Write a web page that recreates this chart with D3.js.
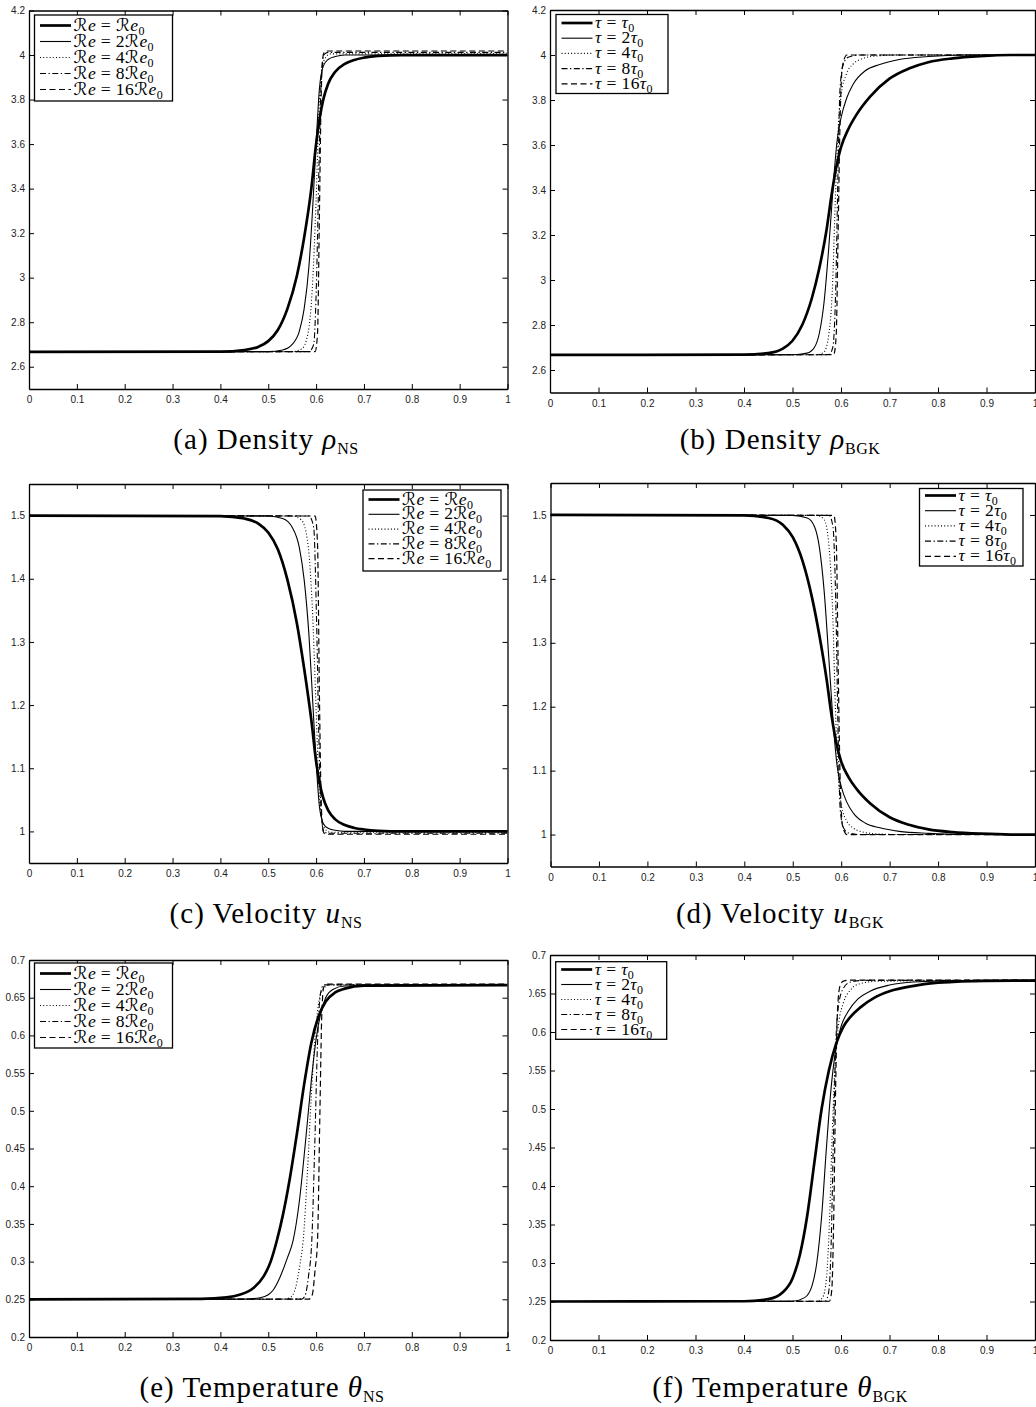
<!DOCTYPE html>
<html>
<head>
<meta charset="utf-8">
<script src="https://cdn.jsdelivr.net/npm/d3@7"></script>
<style>
  html, body { margin: 0; padding: 0; background: #fff; }
  svg { display: block; }
  .tick text { font-family: "Liberation Sans", Arial, sans-serif; font-size: 10px; fill: #222; }
  .tick line { stroke: #000; stroke-width: 1; }
  .domain { stroke: #000; stroke-width: 1.3; fill: none; }
  .legend text, .caption { font-family: "Liberation Serif", "DejaVu Serif", serif; white-space: pre; fill: #000; }
  .cal { font-family: "DejaVu Serif", "DejaVu Sans", serif; }
</style>
</head>
<body>
<svg id="fig" width="1036" height="1407"></svg>
<script>
// ---- axis ticks ----
const xTicks = [0, 0.1, 0.2, 0.3, 0.4, 0.5, 0.6, 0.7, 0.8, 0.9, 1];
const xTickLabels = ["0", "0.1", "0.2", "0.3", "0.4", "0.5", "0.6", "0.7", "0.8", "0.9", "1"];
const rhoTicks = [2.6, 2.8, 3, 3.2, 3.4, 3.6, 3.8, 4, 4.2];
const rhoTickLabels = ["2.6", "2.8", "3", "3.2", "3.4", "3.6", "3.8", "4", "4.2"];
const uTicks = [1, 1.1, 1.2, 1.3, 1.4, 1.5];
const uTickLabels = ["1", "1.1", "1.2", "1.3", "1.4", "1.5"];
const thTicks = [0.2, 0.25, 0.3, 0.35, 0.4, 0.45, 0.5, 0.55, 0.6, 0.65, 0.7];
const thTickLabels = ["0.2", "0.25", "0.3", "0.35", "0.4", "0.45", "0.5", "0.55", "0.6", "0.65", "0.7"];

// legend multipliers
const factors = ["", "2", "4", "8", "16"];

// ---- density, Navier-Stokes: Re = Re0, 2Re0, 4Re0, 8Re0, 16Re0 ----
const rhoNS1 = [[0,2.667],[0.40,2.668],[0.45,2.675],[0.48,2.69],[0.50,2.715],[0.52,2.765],[0.54,2.86],[0.56,3.01],[0.575,3.18],[0.59,3.40],[0.60,3.60],[0.607,3.71],[0.615,3.80],[0.625,3.87],[0.64,3.925],[0.66,3.96],[0.68,3.978],[0.70,3.988],[0.73,3.996],[0.78,4.0],[1,4.0]];
const rhoNS2 = [[0,2.667],[0.50,2.668],[0.53,2.675],[0.55,2.70],[0.565,2.76],[0.575,2.86],[0.585,3.05],[0.593,3.32],[0.60,3.60],[0.607,3.85],[0.615,3.95],[0.625,3.98],[0.64,3.993],[0.66,4.0],[1,4.0]];
const rhoNS4 = [[0,2.667],[0.55,2.668],[0.57,2.68],[0.583,2.75],[0.592,2.95],[0.60,3.35],[0.606,3.75],[0.612,3.93],[0.62,3.99],[0.63,4.005],[1,4.005]];
const rhoNS8 = [[0,2.667],[0.585,2.668],[0.595,2.70],[0.601,3.0],[0.606,3.5],[0.611,3.9],[0.616,4.0],[0.625,4.012],[1,4.012]];
const rhoNS16 = [[0,2.667],[0.598,2.668],[0.603,2.75],[0.607,3.3],[0.611,3.85],[0.615,4.0],[0.62,4.018],[1,4.018]];

// ---- density, BGK: tau = tau0 ... 16 tau0 ----
const rhoBGK1 = [[0,2.667],[0.40,2.668],[0.45,2.675],[0.48,2.695],[0.50,2.73],[0.52,2.80],[0.54,2.92],[0.555,3.05],[0.57,3.22],[0.58,3.37],[0.59,3.50],[0.60,3.59],[0.615,3.67],[0.632,3.735],[0.66,3.815],[0.70,3.895],[0.74,3.94],[0.78,3.968],[0.83,3.985],[0.887,3.995],[0.95,4.0],[1,4.0]];
const rhoBGK2 = [[0,2.667],[0.50,2.668],[0.53,2.675],[0.545,2.70],[0.555,2.76],[0.565,2.90],[0.575,3.15],[0.585,3.45],[0.592,3.62],[0.60,3.72],[0.612,3.81],[0.625,3.87],[0.65,3.93],[0.68,3.958],[0.72,3.98],[0.78,3.993],[0.85,4.0],[1,4.0]];
const rhoBGK4 = [[0,2.667],[0.55,2.668],[0.565,2.68],[0.575,2.76],[0.582,2.95],[0.589,3.40],[0.595,3.70],[0.60,3.82],[0.612,3.92],[0.625,3.96],[0.639,3.98],[0.67,3.995],[0.72,4.0],[1,4.0]];
const rhoBGK8 = [[0,2.667],[0.575,2.668],[0.583,2.70],[0.589,2.95],[0.594,3.50],[0.598,3.85],[0.605,3.96],[0.615,3.99],[0.64,4.0],[1,4.0]];
const rhoBGK16 = [[0,2.667],[0.585,2.668],[0.59,2.75],[0.594,3.20],[0.598,3.70],[0.603,3.95],[0.612,4.0],[1,4.0]];

// ---- velocity, Navier-Stokes ----
const uNS1 = [[0,1.5],[0.40,1.4993],[0.45,1.4953],[0.48,1.487],[0.50,1.4733],[0.52,1.4467],[0.54,1.3986],[0.56,1.3289],[0.575,1.2579],[0.59,1.1765],[0.60,1.1111],[0.607,1.0782],[0.615,1.0526],[0.625,1.0336],[0.64,1.0191],[0.66,1.0101],[0.68,1.0055],[0.70,1.003],[0.73,1.001],[0.78,1.0],[1,1.0]];
const uNS2 = [[0,1.5],[0.50,1.4993],[0.53,1.4953],[0.55,1.4815],[0.565,1.4493],[0.575,1.3986],[0.585,1.3115],[0.593,1.2048],[0.60,1.1111],[0.607,1.039],[0.615,1.0127],[0.625,1.005],[0.64,1.0018],[0.66,1.0],[1,1.0]];
const uNS4 = [[0,1.5],[0.55,1.4993],[0.57,1.4925],[0.583,1.4545],[0.592,1.3559],[0.60,1.194],[0.606,1.0667],[0.612,1.0178],[0.62,1.0025],[0.63,0.9988],[1,0.9988]];
const uNS8 = [[0,1.5],[0.585,1.4993],[0.595,1.4815],[0.601,1.3333],[0.606,1.1429],[0.611,1.0256],[0.616,1.0],[0.625,0.997],[1,0.997]];
const uNS16 = [[0,1.5],[0.598,1.4993],[0.603,1.4545],[0.607,1.2121],[0.611,1.039],[0.615,1.0],[0.62,0.9955],[1,0.9955]];

// ---- velocity, BGK ----
const uBGK1 = [[0,1.5],[0.40,1.4993],[0.45,1.4953],[0.48,1.4842],[0.50,1.4652],[0.52,1.4286],[0.54,1.3699],[0.555,1.3115],[0.57,1.2422],[0.58,1.1869],[0.59,1.1429],[0.60,1.1142],[0.615,1.0899],[0.632,1.071],[0.66,1.0485],[0.70,1.027],[0.74,1.0152],[0.78,1.0081],[0.83,1.0038],[0.887,1.0013],[0.95,1.0],[1,1.0]];
const uBGK2 = [[0,1.5],[0.50,1.4993],[0.53,1.4953],[0.545,1.4815],[0.555,1.4493],[0.565,1.3793],[0.575,1.2698],[0.585,1.1594],[0.592,1.105],[0.60,1.0753],[0.612,1.0499],[0.625,1.0336],[0.65,1.0178],[0.68,1.0106],[0.72,1.005],[0.78,1.0018],[0.85,1.0],[1,1.0]];
const uBGK4 = [[0,1.5],[0.55,1.4993],[0.565,1.4925],[0.575,1.4493],[0.582,1.3559],[0.589,1.1765],[0.595,1.0811],[0.60,1.0471],[0.612,1.0204],[0.625,1.0101],[0.639,1.005],[0.67,1.0013],[0.72,1.0],[1,1.0]];
const uBGK8 = [[0,1.5],[0.575,1.4993],[0.583,1.4815],[0.589,1.3559],[0.594,1.1429],[0.598,1.039],[0.605,1.0101],[0.615,1.0025],[0.64,1.0],[1,1.0]];
const uBGK16 = [[0,1.5],[0.585,1.4993],[0.59,1.4545],[0.594,1.25],[0.598,1.0811],[0.603,1.0127],[0.612,1.0],[1,1.0]];

// ---- temperature, Navier-Stokes ----
const thNS1 = [[0,0.25],[0.36,0.2505],[0.413,0.2525],[0.44,0.256],[0.469,0.265],[0.49,0.28],[0.505,0.30],[0.518,0.328],[0.53,0.36],[0.545,0.41],[0.56,0.47],[0.575,0.535],[0.59,0.59],[0.605,0.625],[0.62,0.645],[0.64,0.657],[0.66,0.662],[0.70,0.666],[1,0.6667]];
const thNS2 = [[0,0.25],[0.45,0.2502],[0.483,0.252],[0.50,0.256],[0.51,0.262],[0.525,0.28],[0.54,0.305],[0.552,0.328],[0.565,0.38],[0.578,0.46],[0.59,0.54],[0.60,0.595],[0.61,0.63],[0.62,0.65],[0.635,0.661],[0.66,0.6655],[1,0.6667]];
const thNS4 = [[0,0.25],[0.53,0.2502],[0.545,0.252],[0.557,0.265],[0.566,0.295],[0.573,0.328],[0.582,0.42],[0.59,0.52],[0.598,0.60],[0.606,0.645],[0.615,0.662],[0.63,0.667],[1,0.667]];
const thNS8 = [[0,0.25],[0.57,0.2502],[0.577,0.255],[0.584,0.28],[0.591,0.328],[0.597,0.45],[0.603,0.59],[0.609,0.655],[0.616,0.667],[1,0.667]];
const thNS16 = [[0,0.25],[0.585,0.2502],[0.592,0.256],[0.598,0.29],[0.603,0.328],[0.608,0.50],[0.612,0.63],[0.616,0.664],[0.622,0.668],[1,0.668]];

// ---- temperature, BGK ----
const thBGK1 = [[0,0.25],[0.40,0.2503],[0.45,0.253],[0.48,0.262],[0.50,0.28],[0.515,0.31],[0.53,0.36],[0.545,0.43],[0.56,0.50],[0.575,0.55],[0.59,0.585],[0.605,0.607],[0.62,0.62],[0.64,0.632],[0.67,0.645],[0.70,0.653],[0.75,0.66],[0.80,0.664],[0.90,0.6665],[1,0.6667]];
const thBGK2 = [[0,0.25],[0.50,0.2503],[0.525,0.255],[0.54,0.27],[0.55,0.30],[0.56,0.36],[0.57,0.45],[0.58,0.53],[0.59,0.58],[0.60,0.607],[0.615,0.627],[0.635,0.643],[0.66,0.653],[0.70,0.661],[0.75,0.665],[0.85,0.6667],[1,0.6667]];
const thBGK4 = [[0,0.25],[0.55,0.2503],[0.562,0.255],[0.57,0.28],[0.576,0.35],[0.582,0.47],[0.588,0.56],[0.595,0.61],[0.605,0.638],[0.62,0.655],[0.64,0.663],[0.68,0.666],[1,0.6667]];
const thBGK8 = [[0,0.25],[0.567,0.2503],[0.574,0.26],[0.579,0.31],[0.584,0.45],[0.589,0.58],[0.595,0.635],[0.605,0.657],[0.62,0.665],[0.65,0.667],[1,0.667]];
const thBGK16 = [[0,0.25],[0.576,0.2503],[0.581,0.265],[0.585,0.36],[0.589,0.53],[0.593,0.63],[0.598,0.66],[0.605,0.666],[0.62,0.6675],[1,0.6675]];

// ---- line styles for the five refinement levels ----
const lineStyles = [
  { width: 2.7, dash: null },
  { width: 1.1, dash: null },
  { width: 1.1, dash: "1,2.2" },
  { width: 1.1, dash: "6,2.5,1.3,2.5" },
  { width: 1.2, dash: "6,3.5" }
];

const W = 1036, H = 1407;
const svg = d3.select("#fig");

const panels = [
  { box: { l: 29, t: 10.5, r: 507.5, b: 389 }, yDomain: [2.5, 4.2], yTicks: rhoTicks, yLabels: rhoTickLabels,
    series: [rhoNS1, rhoNS2, rhoNS4, rhoNS8, rhoNS16], kind: "re",
    legend: { x: 34.5, y: 15, w: 138, h: 86, y0: 25.5, step: 16 },
    cap: { cx: 266, base: 449, tag: "(a) Density ", sym: "ρ", sub: "NS" }, clipX: 0 },
  { box: { l: 550, t: 10, r: 1035, b: 392.5 }, yDomain: [2.5, 4.2], yTicks: rhoTicks, yLabels: rhoTickLabels,
    series: [rhoBGK1, rhoBGK2, rhoBGK4, rhoBGK8, rhoBGK16], kind: "tau",
    legend: { x: 556, y: 14.5, w: 112, h: 79, y0: 23, step: 15.2 },
    cap: { cx: 780, base: 449, tag: "(b) Density ", sym: "ρ", sub: "BGK" }, clipX: 529 },
  { box: { l: 29, t: 484, r: 507.5, b: 863 }, yDomain: [0.95, 1.55], yTicks: uTicks, yLabels: uTickLabels,
    series: [uNS1, uNS2, uNS4, uNS8, uNS16], kind: "re",
    legend: { x: 363, y: 490, w: 138, h: 81, y0: 499.5, step: 14.8 },
    cap: { cx: 266, base: 923, tag: "(c) Velocity ", sym: "u", sub: "NS" }, clipX: 0 },
  { box: { l: 550.5, t: 483, r: 1035, b: 866.5 }, yDomain: [0.95, 1.55], yTicks: uTicks, yLabels: uTickLabels,
    series: [uBGK1, uBGK2, uBGK4, uBGK8, uBGK16], kind: "tau",
    legend: { x: 919.5, y: 488.5, w: 103.5, h: 77.5, y0: 495.5, step: 15.2 },
    cap: { cx: 780, base: 923, tag: "(d) Velocity ", sym: "u", sub: "BGK" }, clipX: 529 },
  { box: { l: 29, t: 960, r: 507.5, b: 1337 }, yDomain: [0.2, 0.7], yTicks: thTicks, yLabels: thTickLabels,
    series: [thNS1, thNS2, thNS4, thNS8, thNS16], kind: "re",
    legend: { x: 34.5, y: 963, w: 138, h: 85, y0: 973.5, step: 16 },
    cap: { cx: 262, base: 1397, tag: "(e) Temperature ", sym: "θ", sub: "NS" }, clipX: 0 },
  { box: { l: 550, t: 955, r: 1035, b: 1340 }, yDomain: [0.2, 0.7], yTicks: thTicks, yLabels: thTickLabels,
    series: [thBGK1, thBGK2, thBGK4, thBGK8, thBGK16], kind: "tau",
    legend: { x: 555.7, y: 961.7, w: 111, h: 77.6, y0: 969.5, step: 15 },
    cap: { cx: 780, base: 1397, tag: "(f) Temperature ", sym: "θ", sub: "BGK" }, clipX: 529 }
];

// legend entry:  Re = k Re0  or  tau = k tau0
function legendLabel(t, kind, factor) {
  const eq = " = " + factor;
  if (kind === "re") {
    t.append("tspan").attr("class", "cal").text("ℛ");
    t.append("tspan").attr("font-style", "italic").text("e");
    t.append("tspan").text(eq);
    t.append("tspan").attr("class", "cal").text("ℛ");
    t.append("tspan").attr("font-style", "italic").text("e");
  } else {
    t.append("tspan").attr("font-style", "italic").text("τ");
    t.append("tspan").text(eq);
    t.append("tspan").attr("font-style", "italic").text("τ");
  }
  t.append("tspan").attr("font-size", 12).attr("dy", 4).text("0");
}

function styleLine(sel, k) {
  sel.attr("fill", "none").attr("stroke", "#000")
     .attr("stroke-width", lineStyles[k].width)
     .attr("stroke-dasharray", lineStyles[k].dash)
     .attr("stroke-linejoin", "round");
}

panels.forEach((p, pi) => {
  const g = svg.append("g");
  if (p.clipX) {
    const cid = "panelclip" + pi;
    svg.append("clipPath").attr("id", cid).append("rect")
      .attr("x", p.clipX).attr("y", 0).attr("width", W - p.clipX).attr("height", H);
    g.attr("clip-path", `url(#${cid})`);
  }
  const x = d3.scaleLinear().domain([0, 1]).range([p.box.l, p.box.r]);
  const y = d3.scaleLinear().domain(p.yDomain).range([p.box.b, p.box.t]);

  // plot-area clip for the curves
  const pid = "plotclip" + pi;
  svg.append("clipPath").attr("id", pid).append("rect")
    .attr("x", p.box.l).attr("y", p.box.t)
    .attr("width", p.box.r - p.box.l).attr("height", p.box.b - p.box.t);

  const line = d3.line().x(d => x(d[0])).y(d => y(d[1])).curve(d3.curveMonotoneX);
  const curves = g.append("g").attr("clip-path", `url(#${pid})`);
  p.series.forEach((s, k) => {
    curves.append("path").datum(s).attr("d", line).call(styleLine, k);
  });

  // axes with inward ticks on all four sides
  g.append("g").attr("transform", `translate(0,${p.box.b})`)
    .call(d3.axisBottom(x).tickValues(xTicks).tickFormat((d, i) => xTickLabels[i]).tickSizeInner(-5).tickSizeOuter(0).tickPadding(7));
  g.append("g").attr("transform", `translate(0,${p.box.t})`)
    .call(d3.axisTop(x).tickValues(xTicks).tickFormat("").tickSizeInner(-5).tickSizeOuter(0));
  g.append("g").attr("transform", `translate(${p.box.l},0)`)
    .call(d3.axisLeft(y).tickValues(p.yTicks).tickFormat((d, i) => p.yLabels[i]).tickSizeInner(-5).tickSizeOuter(0).tickPadding(4));
  g.append("g").attr("transform", `translate(${p.box.r},0)`)
    .call(d3.axisRight(y).tickValues(p.yTicks).tickFormat("").tickSizeInner(-5).tickSizeOuter(0));

  // legend
  const L = p.legend;
  const lg = g.append("g").attr("class", "legend");
  lg.append("rect").attr("x", L.x).attr("y", L.y).attr("width", L.w).attr("height", L.h)
    .attr("fill", "#fff").attr("stroke", "#000").attr("stroke-width", 1.3);
  factors.forEach((f, k) => {
    const ry = L.y0 + k * L.step;
    lg.append("line").attr("x1", L.x + 5.5).attr("x2", L.x + 36.5).attr("y1", ry).attr("y2", ry).call(styleLine, k);
    const t = lg.append("text").attr("x", L.x + 39).attr("y", ry + 5).attr("font-size", 17.5).attr("letter-spacing", 0.4);
    legendLabel(t, p.kind, f);
  });

  // caption
  const c = svg.append("text").attr("class", "caption")
    .attr("x", p.cap.cx).attr("y", p.cap.base).attr("text-anchor", "middle")
    .attr("font-size", 29).attr("letter-spacing", 1.0);
  c.append("tspan").text(p.cap.tag);
  c.append("tspan").attr("font-style", "italic").text(p.cap.sym);
  c.append("tspan").attr("font-size", 16).attr("dy", 5).attr("letter-spacing", 0.5).text(p.cap.sub);
});
</script>
</body>
</html>
